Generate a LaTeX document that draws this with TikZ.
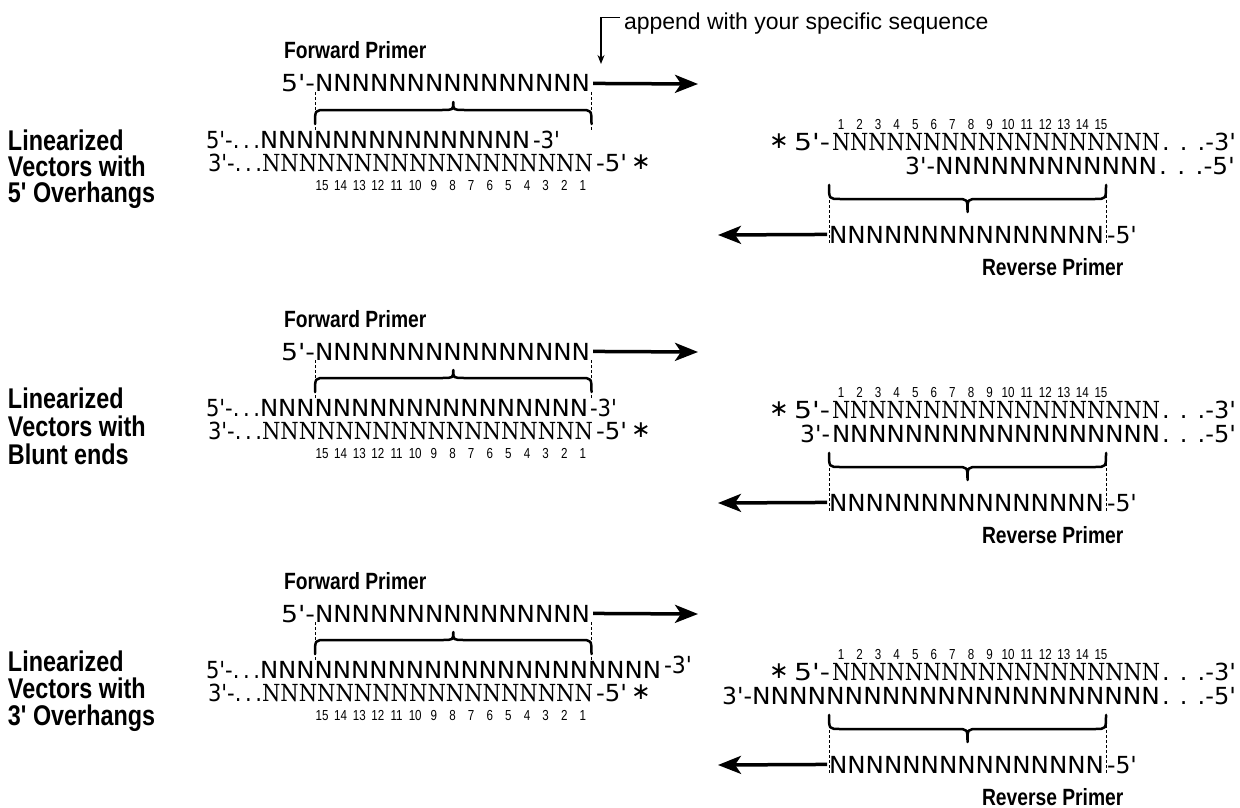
\documentclass[tikz,border=0pt]{standalone}
\usepackage{fontspec}
\usepackage{graphicx}
\usetikzlibrary{arrows.meta,calc}
\setmainfont{DejaVu Sans}
\newfontfamily\seqsans{DejaVu Sans}
\newfontfamily\seqserif{DejaVu Serif}
\newfontfamily\labfont[FakeStretch=0.82]{Liberation Sans Bold}
\newfontfamily\numfont[FakeStretch=0.8]{Liberation Sans}
\newfontfamily\apfont{Liberation Sans}
\newcommand\fitw[2]{\resizebox{#1}{\height}{#2}}
\newcommand\Nf{NNNNN}
\tikzset{
  tx/.style={inner sep=0pt, outer sep=0pt, anchor=base west},
  sqs/.style={tx, font=\seqsans\fontsize{23.5}{27}\selectfont},
  sqr/.style={tx, font=\seqserif\fontsize{23.5}{27}\selectfont},
  bigl/.style={tx, font=\labfont\fontsize{28.5}{32}\selectfont},
  prl/.style={tx, font=\labfont\fontsize{23.5}{27}\selectfont},
  num/.style={inner sep=0pt, outer sep=0pt, anchor=base, font=\numfont\fontsize{14.5}{16}\selectfont},
  guide/.style={line width=1pt, dash pattern=on 3pt off 2pt},
  brc/.style={line width=2.5pt, line cap=round, line join=round},
  bigarrow/.style={line width=3.5pt, -{Stealth[length=23pt,width=18pt,inset=6pt]}},
  apparrow/.style={line width=1.3pt, -{Stealth[length=9pt,width=7pt]}},
}
% brace: x1, x2, y of ends, y of straight part, y of tip
\newcommand\dbrace[5]{%
  \draw[brc] (#1,#3) .. controls (#1,#4) .. ({#1+11},#4)
    -- ({(#1+#2)/2-11},#4) .. controls ({(#1+#2)/2},#4) .. ({(#1+#2)/2},#5)
    .. controls ({(#1+#2)/2},#4) .. ({(#1+#2)/2+11},#4)
    -- ({#2-11},#4) .. controls (#2,#4) .. (#2,#3);}
% common part of a left panel: #1 name, #2 vertical offset
\newcommand\leftpanel[2]{%
  \node[prl] (fpl#1) at (284,{59+#2}) {Forward Primer};
  \node[sqs,anchor=base east] (fp5#1) at (315,{92+#2}) {\fitw{34pt}{5'-}};
  \node[sqs] (fp#1) at (315,{92+#2}) {\fitw{275pt}{\Nf\Nf\Nf}};
  \coordinate (fpe#1) at (698,{84+#2});
  \draw[bigarrow] ([xshift=3pt]fp#1.east) -- (fpe#1);
  \draw[guide] (fp#1.south west) -- ++(0,38);
  \draw[guide] ([xshift=1.5pt]fp#1.south east) -- ++(0,38);
  \dbrace{315}{591.5}{124+#2}{110+#2}{102+#2}
  \node[sqs,anchor=base east] (lb3#1) at (262,{171+#2}) {\fitw{54pt}{3'-.\,.\,.}};
  \node[sqr] (lb#1) at (262,{171+#2}) {\fitw{331pt}{\Nf\Nf\Nf NNN}};
  \node[sqs] (lbe#1) at ([xshift=3pt]lb#1.base east) {\fitw{31pt}{-5'}};
  \node[sqs,anchor=center] (lbs#1) at (641,{162+#2}) {∗};
  \foreach \n [count=\i from 0] in {15,14,...,1}
    \node[num] (nl#1-\n) at ({322+18.64*\i},{190+#2}) {\n};
}
% common part of a right panel
\newcommand\rightpanel[2]{%
  \foreach \n in {1,...,15}
    \node[num] (nr#1-\n) at ({841+18.57*(\n-1)},{129+#2}) {\n};
  \node[sqs,anchor=base east] (rt5#1) at (830,{150+#2}) {\fitw{36pt}{5'-}};
  \node[sqs,anchor=center] (rts#1) at (779,{141+#2}) {∗};
  \node[sqr] (rt#1) at (832,{150+#2}) {\fitw{328pt}{\Nf\Nf\Nf NNN}};
  \node[sqs] (rte#1) at ([xshift=2pt]rt#1.base east) {\fitw{74pt}{. . .-3'}};
  \node[sqs] (rp#1) at (829,{243+#2}) {\fitw{275pt}{\Nf\Nf\Nf}};
  \node[sqs] (rpe#1) at ([xshift=3pt]rp#1.base east) {-5'};
  \draw[guide] (rp#1.south west) -- ++(0,-60);
  \draw[guide] ([xshift=2pt]rp#1.south east) -- ++(0,-60);
  \dbrace{829}{1106}{185+#2}{199+#2}{212+#2}
  \coordinate (rpa#1) at (718,{235+#2});
  \draw[bigarrow] ([xshift=-2pt]rp#1.west) -- (rpa#1);
  \node[prl] (rpl#1) at (982,{275+#2}) {Reverse Primer};
}
\begin{document}
\begin{tikzpicture}[x=1pt,y=-1pt]
\useasboundingbox (0,0) rectangle (1240,808);
\fill[white] (0,0) rectangle (1240,808);

% ---------- annotation ----------
\node[tx, font=\apfont\fontsize{23}{27}\selectfont] (ap) at (624,30) {append with your specific sequence};
\coordinate (aptip) at (601,64);
\draw[apparrow] ($(ap.north west)+(-4,4)$) -| (aptip);

% ---------- panel 1: 5' overhangs ----------
\node[bigl] (la1) at (8,150) {Linearized};
\node[bigl] (lb1) at (8,176) {Vectors with};
\node[bigl] (lc1) at (8,202) {5' Overhangs};
\leftpanel{1}{0}
\node[sqs,anchor=base east] (l1p1) at (260,148) {\fitw{54pt}{5'-.\,.\,.}};
\node[sqs] (l1n1) at (260,148) {\fitw{270pt}{\Nf\Nf\Nf}};
\node[sqs] (l1e1) at ([xshift=3pt]l1n1.base east) {\fitw{27pt}{-3'}};
\rightpanel{1}{0}
\node[sqs,anchor=base east] (r2p1) at (935,174) {3'-};
\node[sqs] (r2n1) at (935,174) {\fitw{222pt}{\Nf\Nf NN}};
\node[sqs] (r2e1) at ([xshift=2pt]r2n1.base east) {\fitw{76pt}{. . .-5'}};

% ---------- panel 2: blunt ends ----------
\node[bigl] (la2) at (8,408) {Linearized};
\node[bigl] (lb2) at (8,436) {Vectors with};
\node[bigl] (lc2) at (8,464) {Blunt ends};
\leftpanel{2}{268}
\node[sqs,anchor=base east] (l1p2) at (260,416) {\fitw{54pt}{5'-.\,.\,.}};
\node[sqs] (l1n2) at (260,416) {\fitw{328pt}{\Nf\Nf\Nf NNN}};
\node[sqs] (l1e2) at ([xshift=2pt]l1n2.base east) {\fitw{27pt}{-3'}};
\rightpanel{2}{268}
\node[sqs,anchor=base east] (r2p2) at (830,442) {3'-};
\node[sqs] (r2n2) at (832,442) {\fitw{328pt}{\Nf\Nf\Nf NNN}};
\node[sqs] (r2e2) at ([xshift=2pt]r2n2.base east) {\fitw{74pt}{. . .-5'}};

% ---------- panel 3: 3' overhangs ----------
\node[bigl] (la3) at (8,671) {Linearized};
\node[bigl] (lb3) at (8,698) {Vectors with};
\node[bigl] (lc3) at (8,725) {3' Overhangs};
\leftpanel{3}{530}
\node[sqs,anchor=base east] (l1p3) at (260,678) {\fitw{54pt}{5'-.\,.\,.}};
\node[sqs] (l1n3) at (260,678) {\fitw{401pt}{\Nf\Nf\Nf\Nf NN}};
\node[sqs] (l1e3) at ([xshift=3pt,yshift=5pt]l1n3.base east) {\fitw{28pt}{-3'}};
\rightpanel{3}{530}
\node[sqs,anchor=base east] (r2p3) at (752,704) {3'-};
\node[sqs] (r2n3) at (752,704) {\fitw{408pt}{\Nf\Nf\Nf\Nf NN}};
\node[sqs] (r2e3) at ([xshift=2pt]r2n3.base east) {\fitw{74pt}{. . .-5'}};
\end{tikzpicture}
\end{document}
